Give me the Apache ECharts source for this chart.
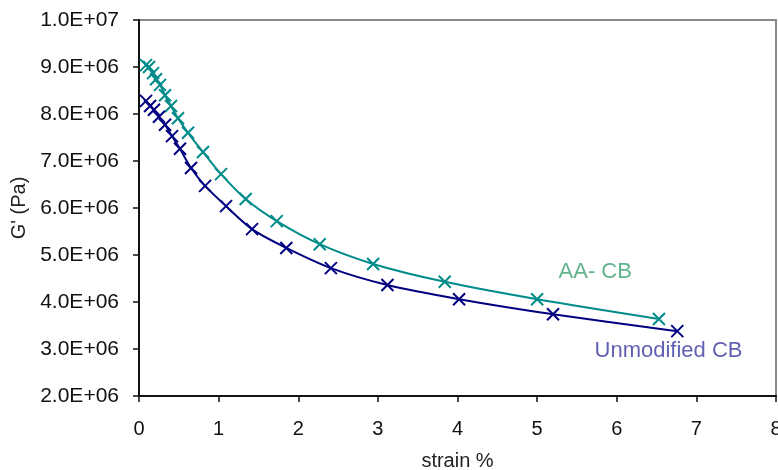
<!DOCTYPE html>
<html>
<head>
<meta charset="utf-8">
<script src="https://cdn.jsdelivr.net/npm/echarts@6/dist/echarts.min.js"></script>
<style>
html,body{margin:0;padding:0;background:#fff;}
#chart{width:778px;height:470px;}
</style>
</head>
<body>
<div id="chart"></div>
<script>
// Data
const aaStrain = [0.088, 0.126, 0.176, 0.214, 0.264, 0.327, 0.402, 0.49, 0.616, 0.804, 1.03, 1.34, 1.73, 2.27, 2.94, 3.84, 5.0, 6.53];
const aaG = [9.04e6, 9.0e6, 8.87e6, 8.74e6, 8.62e6, 8.40e6, 8.17e6, 7.91e6, 7.60e6, 7.19e6, 6.72e6, 6.19e6, 5.72e6, 5.23e6, 4.81e6, 4.43e6, 4.06e6, 3.64e6];
const unStrain = [0.088, 0.139, 0.188, 0.251, 0.327, 0.415, 0.515, 0.653, 0.83, 1.093, 1.42, 1.85, 2.41, 3.12, 4.02, 5.2, 6.76];
const unG = [8.28e6, 8.17e6, 8.09e6, 7.94e6, 7.77e6, 7.53e6, 7.26e6, 6.85e6, 6.47e6, 6.04e6, 5.55e6, 5.15e6, 4.72e6, 4.36e6, 4.06e6, 3.74e6, 3.38e6];
const seriesNames = ['AA- CB', 'Unmodified CB'];
const labelPositions = [[5.73, 4.64e6], [6.65, 2.96e6]];

const zip = (xs, ys) => xs.map((x, i) => [x, ys[i]]);
const xMark = 'path://M0,0L10,10M10,0L0,10';
const fmtExp = v => {
  const parts = v.toExponential(1).split('e');
  const e = parts[1];
  return parts[0] + 'E' + e[0] + e.slice(1).padStart(2, '0');
};
const FONT = 'Liberation Sans, Arial, sans-serif';

const chart = echarts.init(document.getElementById('chart'));
chart.setOption({
  animation: false,
  backgroundColor: '#fff',
  grid: { left: 139, top: 20, right: 2, bottom: 74, outerBoundsMode: 'none', containLabel: false, show: true, borderColor: '#8a8a8a', borderWidth: 2, backgroundColor: 'transparent' },
  xAxis: {
    type: 'value', min: 0, max: 8, interval: 1,
    name: 'strain %', nameLocation: 'middle', nameGap: 55,
    nameTextStyle: { fontFamily: FONT, fontSize: 20, color: '#222' },
    axisLine: { show: true, onZero: false, lineStyle: { color: '#111', width: 2 } },
    axisTick: { show: true, length: 6, lineStyle: { color: '#111', width: 1.5 } },
    axisLabel: { fontFamily: FONT, fontSize: 20, color: '#111', margin: 23 },
    splitLine: { show: false }
  },
  yAxis: {
    type: 'value', min: 2e6, max: 1e7, interval: 1e6,
    name: "G' (Pa)", nameLocation: 'middle', nameGap: 103, nameRotate: 90,
    nameTextStyle: { fontFamily: FONT, fontSize: 20, color: '#222' },
    axisLine: { show: true, onZero: false, lineStyle: { color: '#111', width: 2 } },
    axisTick: { show: true, length: 6, lineStyle: { color: '#111', width: 1.5 } },
    axisLabel: { fontFamily: FONT, fontSize: 21, color: '#111', margin: 20, formatter: fmtExp },
    splitLine: { show: false }
  },
  series: [
    {
      name: seriesNames[0], type: 'line', data: zip(aaStrain, aaG), smooth: 0.3,
      symbol: xMark, symbolSize: 12,
      lineStyle: { color: '#008b8b', width: 2 },
      itemStyle: { color: 'rgba(0,0,0,0)', borderColor: '#008b8b', borderWidth: 2 },
      z: 3
    },
    {
      name: seriesNames[1], type: 'line', data: zip(unStrain, unG), smooth: 0.3,
      symbol: xMark, symbolSize: 12,
      lineStyle: { color: '#000080', width: 2 },
      itemStyle: { color: 'rgba(0,0,0,0)', borderColor: '#000080', borderWidth: 2 },
      z: 4
    },
    {
      type: 'scatter', symbolSize: 0, silent: true,
      data: [
        { value: labelPositions[0], label: { show: true, position: 'inside', formatter: seriesNames[0], color: '#3a9f70', fontFamily: FONT, fontSize: 22, align: 'center' } },
        { value: labelPositions[1], label: { show: true, position: 'inside', formatter: seriesNames[1], color: '#3a3aa0', fontFamily: FONT, fontSize: 22, align: 'center' } }
      ]
    }
  ]
});
</script>
</body>
</html>
